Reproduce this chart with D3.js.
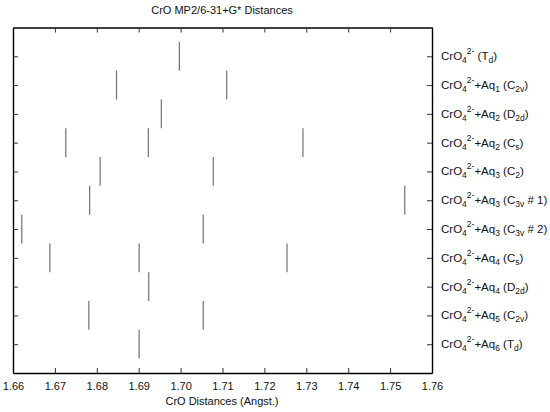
<!DOCTYPE html>
<html><head><meta charset="utf-8">
<script src="https://cdn.jsdelivr.net/npm/d3@7"></script>
<style>body{margin:0;background:#fff}svg{display:block;font-family:"Liberation Sans",Arial,sans-serif}</style>
</head><body><svg id="c" width="550" height="412"></svg>
<script>
const aqCounts = ["", "1", "2", "2", "3", "3", "3", "4", "4", "5", "6"];
const symMain = ["T", "C", "D", "C", "C", "C", "C", "C", "D", "C", "T"];
const symSub = ["d", "2v", "2d", "s", "2", "3v", "3v", "s", "2d", "2v", "d"];
const symSuffix = ["", "", "", "", "", " # 1", " # 2", "", "", "", ""];
const distances = [
  [1.6997],
  [1.6847, 1.7110],
  [1.6954],
  [1.6726, 1.6923, 1.7292],
  [1.6808, 1.7078],
  [1.6783, 1.7535],
  [1.6621, 1.7054],
  [1.6688, 1.6901, 1.7254],
  [1.6924],
  [1.6781, 1.7054],
  [1.6901]
];
const xTicks = [1.66,1.67,1.68,1.69,1.70,1.71,1.72,1.73,1.74,1.75,1.76];

const svg = d3.select("#c");
const L = 13, R = 432, T = 27.5, B = 373;
const x = d3.scaleLinear().domain([1.66, 1.76]).range([L, R]);
const y = d3.scaleLinear().domain([-1, 11]).range([T, B]);
const step = y(1) - y(0);

// bars
const g = svg.append("g");
distances.forEach((vals, i) => {
  g.selectAll(null).data(vals).enter().append("line")
    .attr("x1", d => x(d)).attr("x2", d => x(d))
    .attr("y1", y(i) - step/2).attr("y2", y(i) + step/2)
    .attr("stroke", "#707070").attr("stroke-width", 1.2);
});

// axes
const fmt = d3.format(".2f");
const ax = svg.append("g").attr("transform", `translate(0,${B})`)
  .call(d3.axisBottom(x).tickValues(xTicks).tickFormat(fmt).tickSizeInner(-5).tickSizeOuter(0).tickPadding(9));
const axT = svg.append("g").attr("transform", `translate(0,${T})`)
  .call(d3.axisTop(x).tickValues(xTicks).tickFormat("").tickSizeInner(-5).tickSizeOuter(0));
const rows = d3.range(11);
const axL = svg.append("g").attr("transform", `translate(${L},0)`)
  .call(d3.axisLeft(y).tickValues(rows).tickFormat("").tickSizeInner(-5).tickSizeOuter(0));
const axR = svg.append("g").attr("transform", `translate(${R},0)`)
  .call(d3.axisRight(y).tickValues(rows).tickFormat("").tickSizeInner(-5).tickSizeOuter(0));
[ax, axT, axL, axR].forEach(a => {
  a.select(".domain").attr("stroke", "#000").attr("stroke-width", 1.4);
  a.selectAll(".tick line").attr("stroke", "#333");
});
ax.selectAll(".tick text").attr("font-size", 11).attr("fill", "#111")
  .style("font-family", '"Liberation Sans",Arial,sans-serif');

// row labels
rows.forEach(i => {
  const t = svg.append("text").attr("x", 441).attr("y", y(i) + 4)
    .attr("font-size", 11.5).attr("fill", "#111");
  t.append("tspan").text("CrO");
  t.append("tspan").attr("dy", 3).attr("font-size", 8.5).text("4");
  t.append("tspan").attr("dy", -9).attr("font-size", 8.5).text("2-");
  if (aqCounts[i]) {
    t.append("tspan").attr("dy", 6).text("+Aq");
    t.append("tspan").attr("dy", 3).attr("font-size", 8.5).text(aqCounts[i]);
    t.append("tspan").attr("dy", -3).text(" (" + symMain[i]);
  } else {
    t.append("tspan").attr("dy", 6).text(" (" + symMain[i]);
  }
  t.append("tspan").attr("dy", 3).attr("font-size", 8.5).text(symSub[i]);
  t.append("tspan").attr("dy", -3).text(symSuffix[i] + ")");
});

// titles
svg.append("text").attr("x", 222).attr("y", 14).attr("text-anchor", "middle")
  .attr("font-size", 11).attr("fill", "#111").text("CrO MP2/6-31+G* Distances");
svg.append("text").attr("x", 222).attr("y", 405).attr("text-anchor", "middle")
  .attr("font-size", 11).attr("fill", "#111").text("CrO Distances (Angst.)");
</script></body></html>
